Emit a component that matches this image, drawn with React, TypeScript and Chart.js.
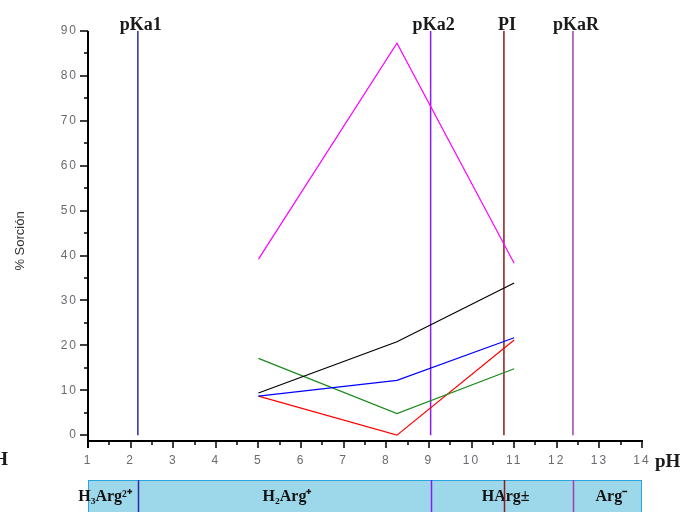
import React, { useEffect, useRef } from "react";
import { Chart, registerables } from "chart.js";

Chart.register(...registerables);

// pH values where sorption was measured
const phValues = [5, 8.25, 11];
// % sorption series
const magentaSeries = [39.2, 87.3, 38.3];
const blackSeries = [9.4, 20.8, 33.9];
const blueSeries = [8.7, 12.2, 21.7];
const greenSeries = [17.1, 4.8, 14.8];
const redSeries = [8.7, 0, 21.2];

// vertical reference lines
const markerLabels = ["pKa1", "pKa2", "PI", "pKaR"];
const markerValues = [2.17, 9.04, 10.76, 12.38];
const markerColors = ["#2a2aa0", "#8a1aff", "#8b1c1c", "#a040b0"];

// species band
const speciesLabels = ["H₃Arg²⁺", "H₂Arg⁺", "HArg±", "Arg⁻"];
const speciesX = [1.4, 5.67, 10.8, 13.28];

const xTicks = [1, 2, 3, 4, 5, 6, 7, 8, 9, 10, 11, 12, 13, 14];
const yTicks = [0, 10, 20, 30, 40, 50, 60, 70, 80, 90];

const toPts = (ys: number[]) => ys.map((y, i) => ({ x: phValues[i], y }));

const spacing = {
  id: "spacing",
  beforeDraw(chart: any) {
    chart.ctx.letterSpacing = "2px";
  },
};

const overlay = {
  id: "overlay",
  afterDraw(chart: any) {
    const { ctx, scales } = chart;
    ctx.letterSpacing = "0px";
    const xs = scales.x;
    const ys = scales.y;
    const area = chart.chartArea;
    ctx.save();

    // species band
    const bandTop = 480;
    const bandBottom = 520;
    const bx0 = xs.getPixelForValue(1);
    const bx1 = xs.getPixelForValue(14);
    ctx.fillStyle = "#9dd8ea";
    ctx.fillRect(bx0, bandTop, bx1 - bx0, bandBottom - bandTop);
    ctx.strokeStyle = "#2aa5e0";
    ctx.lineWidth = 1;
    ctx.strokeRect(bx0 + 0.5, bandTop + 0.5, bx1 - bx0 - 1, bandBottom - bandTop);

    ctx.fillStyle = "#111";
    ctx.font = "bold 16px 'Liberation Serif', 'Times New Roman', serif";
    ctx.textAlign = "center";
    ctx.textBaseline = "alphabetic";
    speciesLabels.forEach((t, i) => {
      ctx.fillText(t, xs.getPixelForValue(speciesX[i]), 501);
    });

    // marker extensions in band
    markerValues.forEach((v, i) => {
      const px = Math.round(xs.getPixelForValue(v)) + 0.5;
      ctx.strokeStyle = markerColors[i];
      ctx.lineWidth = 1.5;
      ctx.beginPath();
      ctx.moveTo(px, bandTop);
      ctx.lineTo(px, bandBottom);
      ctx.stroke();
    });

    // marker top labels
    ctx.fillStyle = "#1a1a1a";
    ctx.font = "bold 18px 'Liberation Serif', 'Times New Roman', serif";
    markerLabels.forEach((t, i) => {
      ctx.fillText(t, xs.getPixelForValue(markerValues[i]) + 3, 30);
    });

    // axes
    ctx.strokeStyle = "#000";
    ctx.lineWidth = 2;
    ctx.beginPath();
    ctx.moveTo(area.left, ys.getPixelForValue(90));
    ctx.lineTo(area.left, area.bottom + 7);
    ctx.moveTo(area.left, area.bottom);
    ctx.lineTo(area.right + 1, area.bottom);
    ctx.stroke();

    ctx.lineWidth = 1.5;
    ctx.beginPath();
    for (let v = 0; v <= 90; v += 5) {
      const py = Math.round(ys.getPixelForValue(v));
      const len = v % 10 === 0 ? 8 : 4;
      ctx.moveTo(area.left, py);
      ctx.lineTo(area.left - len, py);
    }
    for (let v = 1; v <= 14.01; v += 0.5) {
      const px = Math.round(xs.getPixelForValue(v));
      const len = Math.abs(v - Math.round(v)) < 0.01 ? 7 : 4;
      ctx.moveTo(px, area.bottom);
      ctx.lineTo(px, area.bottom + len);
    }
    ctx.stroke();

    // pH labels
    ctx.fillStyle = "#1a1a1a";
    ctx.font = "bold 19px 'Liberation Serif', 'Times New Roman', serif";
    ctx.textAlign = "left";
    ctx.fillText("pH", area.right + 13, 467);
    ctx.textAlign = "right";
    ctx.fillText("pH", 8, 465);

    // y title
    ctx.translate(20, 241);
    ctx.rotate(-Math.PI / 2);
    ctx.textAlign = "center";
    ctx.textBaseline = "middle";
    ctx.fillStyle = "#333";
    ctx.font = "13px 'Liberation Sans', Arial, sans-serif";
    ctx.fillText("% Sorción", 0, 0);

    ctx.restore();
  },
};

export default function App() {
  const ref = useRef<HTMLCanvasElement | null>(null);
  useEffect(() => {
    document.body.style.margin = "0";
    const canvas = ref.current!;
    const line = (data: any, color: string, w = 1.2) => ({
      data,
      borderColor: color,
      backgroundColor: color,
      borderWidth: w,
      pointRadius: 0,
      tension: 0,
      fill: false,
    });
    const datasets: any[] = [
      line(toPts(magentaSeries), "#ff00ff"),
      line(toPts(blackSeries), "#000000"),
      line(toPts(blueSeries), "#0000ff"),
      line(toPts(greenSeries), "#1a8a1a"),
      line(toPts(redSeries), "#ff0000"),
      ...markerValues.map((v, i) =>
        line([{ x: v, y: 0 }, { x: v, y: 90 }], markerColors[i], 1.5)
      ),
    ];
    const tickFont = { family: "'Liberation Sans', Arial, sans-serif", size: 12 };
    const chart = new Chart(canvas, {
      type: "line",
      data: { datasets },
      plugins: [spacing, overlay],
      options: {
        animation: false,
        responsive: false,
        devicePixelRatio: 1,
        layout: { padding: { top: 31, right: 55, left: 0, bottom: 0 } },
        plugins: { legend: { display: false }, tooltip: { enabled: false } },
        scales: {
          x: {
            type: "linear",
            min: 1,
            max: 14,
            afterBuildTicks: (s: any) => {
              s.ticks = xTicks.map((v) => ({ value: v }));
            },
            afterFit: (s: any) => {
              s.height = 71;
            },
            grid: { display: false, drawTicks: false },
            border: { display: false },
            ticks: { font: tickFont, color: "#6a6a70", padding: 12, maxRotation: 0, autoSkip: false },
          },
          y: {
            type: "linear",
            min: -1.3,
            max: 90,
            afterBuildTicks: (s: any) => {
              s.ticks = yTicks.map((v) => ({ value: v }));
            },
            afterFit: (s: any) => {
              s.width = 88;
            },
            grid: { display: false, drawTicks: false },
            border: { display: false },
            ticks: { font: tickFont, color: "#6a6a70", padding: 10, autoSkip: false },
          },
        },
      },
    } as any);
    return () => chart.destroy();
  }, []);
  return <canvas ref={ref} width={697} height={512} style={{ display: "block" }} />;
}
